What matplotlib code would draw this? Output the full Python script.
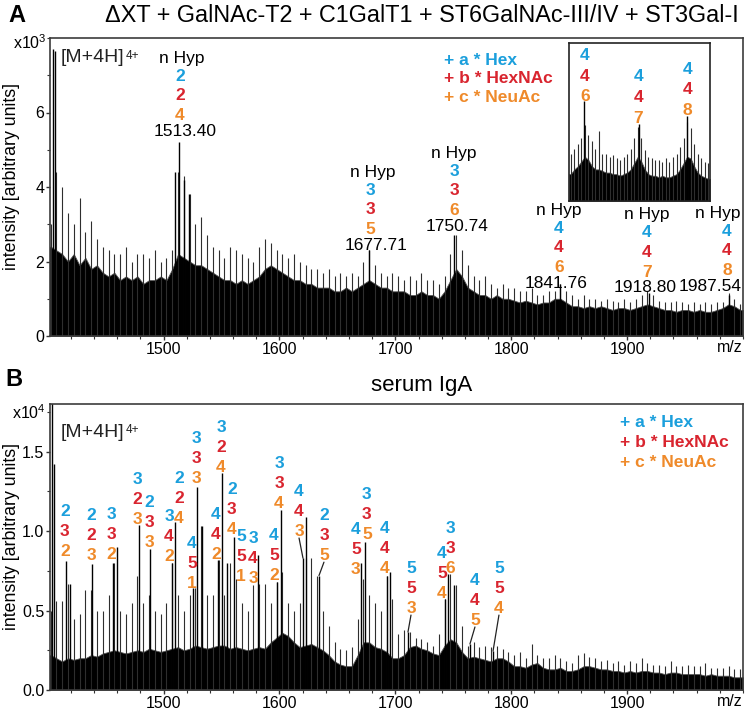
import numpy as np
import matplotlib
matplotlib.use("Agg")
import matplotlib.pyplot as plt
import matplotlib.transforms as mtransforms
from matplotlib.ticker import MultipleLocator, FormatStrFormatter
from matplotlib.patches import ConnectionPatch

plt.rcParams['font.family'] = ['Liberation Sans', 'DejaVu Sans']
plt.rcParams['mathtext.fontset'] = 'custom'
plt.rcParams['mathtext.rm'] = 'Liberation Sans'
plt.rcParams['mathtext.it'] = 'Liberation Sans'
plt.rcParams['mathtext.bf'] = 'Liberation Sans:bold'

HEX, HEXNAC, NEUAC = '#1b9fdc', '#d9252f', '#ef8a2a'

# %%
# spectra, one value per 5 m/z bin (1400 ... 1995)
mz_bins = np.arange(1400, 2000, 5)

# panel A, x10^3 : solid floor and highest spike per bin
a_base = [2.4, 2.3, 2.2, 2.0, 2.2, 1.9, 2.1, 1.8, 1.9, 1.7,
          1.6, 1.7, 1.5, 1.6, 1.5, 1.6, 1.4, 1.5, 1.5, 1.6,
          1.5, 1.8, 2.2, 2.1, 2.0, 1.9, 1.9, 1.8, 1.7, 1.6,
          1.5, 1.5, 1.4, 1.5, 1.4, 1.5, 1.6, 1.8, 1.9, 1.8,
          1.7, 1.6, 1.5, 1.5, 1.4, 1.4, 1.3, 1.3, 1.3, 1.2,
          1.2, 1.3, 1.2, 1.3, 1.4, 1.5, 1.4, 1.3, 1.3, 1.2,
          1.2, 1.2, 1.1, 1.1, 1.2, 1.1, 1.1, 1.0, 1.2, 1.5,
          1.8, 1.6, 1.3, 1.2, 1.1, 1.1, 1.0, 1.1, 1.0, 1.0,
          0.95, 0.9, 0.95, 0.9, 0.85, 0.9, 0.9, 1.0, 1.0, 0.9,
          0.8, 0.8, 0.75, 0.8, 0.75, 0.8, 0.75, 0.7, 0.75, 0.75,
          0.7, 0.75, 0.8, 0.85, 0.8, 0.75, 0.7, 0.7, 0.65, 0.7,
          0.7, 0.65, 0.7, 0.65, 0.65, 0.7, 0.75, 0.85, 0.8, 0.7]
a_tops = [3.0, 4.4, 4.0, 3.3, 3.0, 3.7, 2.8, 3.1, 2.6, 2.4,
          2.3, 2.2, 2.2, 2.4, 2.0, 2.2, 2.2, 2.1, 2.3, 2.0,
          2.1, 2.3, 4.4, 4.3, 3.8, 3.0, 3.2, 2.7, 2.4, 2.3,
          2.1, 2.4, 2.3, 2.2, 2.1, 2.0, 2.4, 2.6, 2.5, 2.3,
          2.2, 2.1, 2.2, 2.0, 1.9, 1.8, 1.8, 1.7, 1.8, 1.6,
          1.7, 1.6, 1.7, 1.6, 2.0, 2.3, 1.9, 1.7, 1.6, 1.7,
          1.6, 1.5, 1.6, 1.5, 1.7, 1.5, 1.5, 1.4, 1.6, 2.2,
          2.7, 2.3, 1.9, 1.6, 1.5, 1.6, 1.4, 1.3, 1.4, 1.3,
          1.3, 1.2, 1.2, 1.3, 1.1, 1.1, 1.2, 1.2, 1.4, 1.2,
          1.1, 1.0, 1.1, 1.0, 1.0, 0.95, 1.0, 0.95, 0.9, 1.0,
          0.9, 1.0, 1.1, 1.2, 1.1, 0.95, 0.9, 0.9, 0.95, 0.9,
          0.85, 0.9, 0.85, 0.9, 0.85, 0.9, 0.9, 1.15, 1.0, 0.85]
a_peak_mz = [1404.9, 1406.3, 1510.0, 1513.4, 1517.5, 1522.0, 1677.7, 1750.7, 1841.8, 1918.8, 1987.5]
a_peak_h = [7.7, 7.65, 4.4, 5.2, 4.2, 3.8, 2.3, 2.7, 1.4, 1.15, 1.1]

# panel B, x10^4
b_base = [0.22, 0.20, 0.18, 0.20, 0.19, 0.20, 0.20, 0.22, 0.21, 0.23,
          0.24, 0.25, 0.24, 0.23, 0.24, 0.25, 0.24, 0.26, 0.25, 0.24,
          0.25, 0.26, 0.27, 0.25, 0.26, 0.28, 0.27, 0.26, 0.27, 0.28,
          0.28, 0.26, 0.27, 0.26, 0.25, 0.26, 0.27, 0.26, 0.30, 0.33,
          0.36, 0.34, 0.30, 0.27, 0.28, 0.29, 0.27, 0.25, 0.22, 0.18,
          0.16, 0.15, 0.15, 0.22, 0.30, 0.30, 0.27, 0.26, 0.24, 0.20,
          0.20, 0.22, 0.27, 0.28, 0.26, 0.25, 0.23, 0.22, 0.28, 0.32,
          0.30, 0.24, 0.20, 0.21, 0.20, 0.19, 0.18, 0.20, 0.20, 0.18,
          0.15, 0.15, 0.14, 0.16, 0.17, 0.14, 0.13, 0.13, 0.14, 0.12,
          0.12, 0.13, 0.15, 0.15, 0.14, 0.13, 0.13, 0.12, 0.12, 0.11,
          0.12, 0.11, 0.12, 0.12, 0.11, 0.11, 0.10, 0.11, 0.11, 0.10,
          0.10, 0.10, 0.10, 0.09, 0.10, 0.09, 0.09, 0.09, 0.08, 0.08]
b_tops = [0.50, 0.56, 0.56, 0.67, 0.45, 0.48, 0.63, 0.63, 0.50, 0.50,
          0.60, 0.80, 0.50, 0.48, 0.55, 0.72, 0.55, 0.60, 0.50, 0.48,
          0.55, 0.80, 0.60, 0.50, 0.60, 0.64, 1.03, 0.60, 0.60, 0.82,
          0.60, 0.80, 0.70, 0.55, 0.50, 0.66, 0.67, 0.67, 0.55, 0.68,
          0.74, 0.55, 0.50, 0.55, 0.83, 0.83, 0.72, 0.50, 0.40, 0.30,
          0.26, 0.25, 0.27, 0.45, 0.70, 0.60, 0.55, 0.50, 0.72, 0.57,
          0.35, 0.38, 0.365, 0.33, 0.32, 0.30, 0.28, 0.35, 0.57, 0.73,
          0.66, 0.40, 0.28, 0.30, 0.27, 0.28, 0.27, 0.28, 0.26, 0.24,
          0.22, 0.24, 0.20, 0.29, 0.22, 0.20, 0.20, 0.22, 0.20, 0.18,
          0.17, 0.22, 0.23, 0.21, 0.20, 0.18, 0.19, 0.17, 0.18, 0.16,
          0.18, 0.17, 0.20, 0.17, 0.16, 0.16, 0.15, 0.18, 0.15, 0.15,
          0.16, 0.15, 0.15, 0.17, 0.14, 0.14, 0.14, 0.15, 0.13, 0.13]
b_peak_mz = [1403.8, 1405.8, 1415.8, 1419.0, 1438.2, 1456.4, 1459.8, 1478.4, 1488.3,
             1507.3, 1509.9, 1525.4, 1528.8, 1533.2, 1547.0, 1550.4, 1554.7, 1560.8,
             1581.5, 1597.9, 1601.3, 1620.3, 1622.9, 1634.1, 1670.4, 1673.8, 1692.8,
             1695.4, 1710.9, 1743.0, 1745.4, 1750.6, 1764.4, 1784.3]
b_peak_h = [2.0, 1.42, 0.81, 0.67, 0.79, 0.80, 0.90, 1.04, 0.89,
            0.80, 1.06, 0.64, 1.28, 1.03, 0.82, 1.365, 0.80, 0.96,
            0.85, 0.68, 1.13, 0.83, 1.09, 0.72, 0.80, 0.93, 0.72,
            0.74, 0.365, 0.57, 0.73, 0.66, 0.29, 0.245]

# inset of panel A (1820 ... 2015, own scale)
inset_bins = np.arange(1820, 2020, 5)
inset_base = [0.17, 0.20, 0.22, 0.25, 0.28, 0.26, 0.22, 0.20, 0.20, 0.19,
              0.18, 0.18, 0.17, 0.17, 0.16, 0.17, 0.18, 0.20, 0.24, 0.28,
              0.25, 0.20, 0.17, 0.16, 0.16, 0.15, 0.16, 0.15, 0.15, 0.16,
              0.17, 0.20, 0.24, 0.28, 0.27, 0.22, 0.18, 0.16, 0.15, 0.14]
inset_tops = [0.30, 0.33, 0.36, 0.40, 0.48, 0.42, 0.38, 0.33, 0.44, 0.30,
              0.30, 0.28, 0.29, 0.27, 0.26, 0.28, 0.30, 0.33, 0.40, 0.47,
              0.40, 0.32, 0.28, 0.27, 0.26, 0.26, 0.25, 0.27, 0.25, 0.28,
              0.30, 0.34, 0.40, 0.50, 0.46, 0.36, 0.30, 0.27, 0.25, 0.24]
inset_peak_mz = [1841.76, 1918.8, 1987.54]
inset_peak_h = [0.63, 0.49, 0.54]

# annotations
# x of "n Hyp", x of digits, x of mass, y of "n Hyp", Hex, HexNAc, NeuAc, mass
a_groups = [(1515.9, 1514.2, 1518.5, 7.46, 2, 2, 4, '1513.40'),
            (1680.3, 1678.1, 1683.3, 4.40, 3, 3, 5, '1677.71'),
            (1750.6, 1750.6, 1753.2, 4.91, 3, 3, 6, '1750.74'),
            (1841.2, 1841.2, 1838.6, 3.38, 4, 4, 6, '1841.76'),
            (1917.2, 1917.2, 1915.8, 3.25, 4, 4, 7, '1918.80'),
            (1978.4, 1986.2, 1971.5, 3.30, 4, 4, 8, '1987.54')]
inset_labels = [(1842.7, 0.92, 4, 4, 6), (1918.3, 0.785, 4, 4, 7), (1988.3, 0.835, 4, 4, 8)]
b_labels = [(1414.9, 1.126, 2, 3, 2), (1437.4, 1.100, 2, 2, 3), (1454.6, 1.107, 3, 3, 2),
            (1477.1, 1.327, 3, 2, 3), (1487.4, 1.182, 2, 3, 3), (1504.7, 1.094, 3, 4, 2),
            (1513.3, 1.333, 2, 2, 4), (1524.5, 0.925, 4, 5, 1), (1528.0, 1.585, 3, 3, 3),
            (1549.6, 1.654, 3, 2, 4), (1545.2, 1.107, 4, 4, 2), (1559.0, 1.264, 2, 3, 4),
            (1566.8, 0.969, 5, 5, 1), (1577.2, 0.956, 3, 4, 3), (1595.3, 0.975, 4, 5, 2),
            (1599.6, 1.428, 3, 3, 4), (1616.9, 1.252, 4, 4, 3), (1638.4, 1.100, 2, 3, 5),
            (1666.0, 1.013, 4, 5, 3), (1675.5, 1.233, 3, 3, 5), (1691.1, 1.019, 4, 4, 4),
            (1713.5, 0.767, 5, 5, 3), (1740.3, 0.862, 4, 5, 4), (1747.2, 1.019, 3, 3, 6),
            (1768.7, 0.692, 4, 4, 5), (1789.4, 0.767, 5, 5, 4)]
# label x -> peak m/z it points to
b_leaders = [(1616.9, 1620.3), (1638.4, 1634.1), (1713.5, 1710.9), (1768.7, 1764.4), (1789.4, 1784.3)]


# %%
def draw_spectrum(ax, bins, base, tops, pk_mz, pk_h, lo, hi):
    # solid floor drawn through the bin centres, padded to the axis ends
    x = np.concatenate([[lo], bins + 2.5, [hi]])
    y = np.concatenate([[base[0]], base, [base[-1]]])
    ax.fill_between(x, 0, y, color='black', lw=0.6, edgecolor='#555555')
    ax.vlines(bins + 2.5, 0, tops, color='#2e2e2e', lw=0.8)
    ax.vlines(pk_mz, 0, pk_h, color='black', lw=1.0)


def shifted(ax, dy):
    return mtransforms.offset_copy(ax.transData, fig=fig, x=0, y=-dy, units='points')


def triple(ax, x, y, a, b, c, gap, first=0.0, fs=12.5):
    for k, (v, col) in enumerate(zip((a, b, c), (HEX, HEXNAC, NEUAC))):
        ax.text(x, y, str(v), transform=shifted(ax, first + k * gap), color=col,
                fontsize=fs, fontweight='bold', ha='center', va='center')


def ion_label(ax, y):
    t = ax.text(0.016, y, '[M+4H]', transform=ax.transAxes, fontsize=14,
                va='center', ha='left', color='#222222')
    ax.annotate('4+', xy=(1.0, 0.95), xycoords=t, xytext=(1, 0), textcoords='offset points',
                fontsize=8.5, ha='left', va='top', color='#222222')


def style_axis(ax, ymax, yticks, yminor, fmt):
    ax.set_xlim(1402, 2000)
    ax.set_ylim(0, ymax)
    ax.set_xticks([1500, 1600, 1700, 1800, 1900])
    ax.xaxis.set_minor_locator(MultipleLocator(20))
    ax.set_yticks(yticks)
    ax.yaxis.set_minor_locator(MultipleLocator(yminor))
    ax.yaxis.set_major_formatter(FormatStrFormatter(fmt))
    ax.tick_params(which='major', direction='out', length=3, width=1, labelsize=11.5, pad=1, color='#333333')
    ax.tick_params(which='minor', direction='out', length=2, width=0.8, color='#333333')
    for s in ax.spines.values():
        s.set_color('#3c3c3c')
        s.set_linewidth(1.2)
    ax.annotate('m/z', xy=(0.981, 0), xycoords='axes fraction', xytext=(0, -3.2),
                textcoords='offset points', ha='center', va='top', fontsize=11.5)


fig = plt.figure(figsize=(7.54, 7.11), dpi=100)
axA = fig.add_axes([50 / 754, 1 - 336 / 711, 693 / 754, 298 / 711])
axB = fig.add_axes([50 / 754, 1 - 690 / 711, 693 / 754, 286 / 711])

# panel A
draw_spectrum(axA, mz_bins, a_base, a_tops, a_peak_mz, a_peak_h, 1400, 2000)
style_axis(axA, 8.0, [0, 2, 4, 6], 1, '%d')
ion_label(axA, 0.933)
for xn, xd, xm, yn, a, b, c, mass in a_groups:
    axA.text(xn, yn, 'n Hyp', fontsize=12.5, ha='center', va='center')
    triple(axA, xd, yn, a, b, c, 14.2, first=13)
    axA.text(xm, yn, mass, transform=shifted(axA, 52.6), fontsize=12.5, ha='center', va='center')
for k, (txt, col) in enumerate([('+ a * Hex', HEX), ('+ b * HexNAc', HEXNAC), ('+ c * NeuAc', NEUAC)]):
    axA.text(0.5685, 0.926 - k * 0.062, txt, transform=axA.transAxes, color=col,
             fontsize=12.5, fontweight='bold', ha='left', va='center')

# inset
axI = fig.add_axes([569 / 754, 1 - 201 / 711, 141 / 754, 158 / 711])
draw_spectrum(axI, inset_bins, inset_base, inset_tops, inset_peak_mz, inset_peak_h, 1820, 2020)
axI.set_xlim(1820, 2020)
axI.set_ylim(0, 1)
axI.set_xticks([])
axI.set_yticks([])
for s in axI.spines.values():
    s.set_color('#222222')
    s.set_linewidth(1.2)
for x, y, a, b, c in inset_labels:
    triple(axI, x, y, a, b, c, 14.8)

# panel B
draw_spectrum(axB, mz_bins, b_base, b_tops, b_peak_mz, b_peak_h, 1400, 2000)
style_axis(axB, 1.8, [0, 0.5, 1.0, 1.5], 0.25, '%.1f')
ion_label(axB, 0.902)
for x, y, a, b, c in b_labels:
    triple(axB, x, y, a, b, c, 14.4)
peak_lookup = dict(zip(b_peak_mz, b_peak_h))
label_lookup = {lab[0]: lab[1] for lab in b_labels}
for lx, pmz in b_leaders:
    con = ConnectionPatch(xyA=(lx, label_lookup[lx]), coordsA=shifted(axB, 33.8),
                          xyB=(pmz, peak_lookup[pmz]), coordsB=axB.transData,
                          color='#222222', lw=0.9)
    axB.add_artist(con)
for k, (txt, col) in enumerate([('+ a * Hex', HEX), ('+ b * HexNAc', HEXNAC), ('+ c * NeuAc', NEUAC)]):
    axB.text(0.8225, 0.934 - k * 0.07, txt, transform=axB.transAxes, color=col,
             fontsize=12.5, fontweight='bold', ha='left', va='center')

# figure texts
fig.text(8 / 754, 1 - 16 / 711, 'A', fontsize=17, fontweight='bold', ha='left', va='center')
fig.text(5 / 754, 1 - 380 / 711, 'B', fontsize=17, fontweight='bold', ha='left', va='center')
fig.text(422 / 754, 1 - 16 / 711, '\u0394XT + GalNAc-T2 + C1GalT1 + ST6GalNAc-III/IV + ST3Gal-I',
         fontsize=16.8, ha='center', va='center')
fig.text(422 / 754, 1 - 385 / 711, 'serum IgA', fontsize=16, ha='center', va='center')
fig.text(13 / 754, 1 - 43 / 711, 'x10$^{3}$', fontsize=11.5, ha='left', va='center')
fig.text(12 / 754, 1 - 413 / 711, 'x10$^{4}$', fontsize=11.5, ha='left', va='center')
fig.text(12 / 754, 1 - 176 / 711, 'intensity [arbitrary units]', rotation=90, fontsize=12.8, ha='center', va='center')
fig.text(12 / 754, 1 - 536 / 711, 'intensity [arbitrary units]', rotation=90, fontsize=12.8, ha='center', va='center')

fig.savefig('out.png', dpi=100)
